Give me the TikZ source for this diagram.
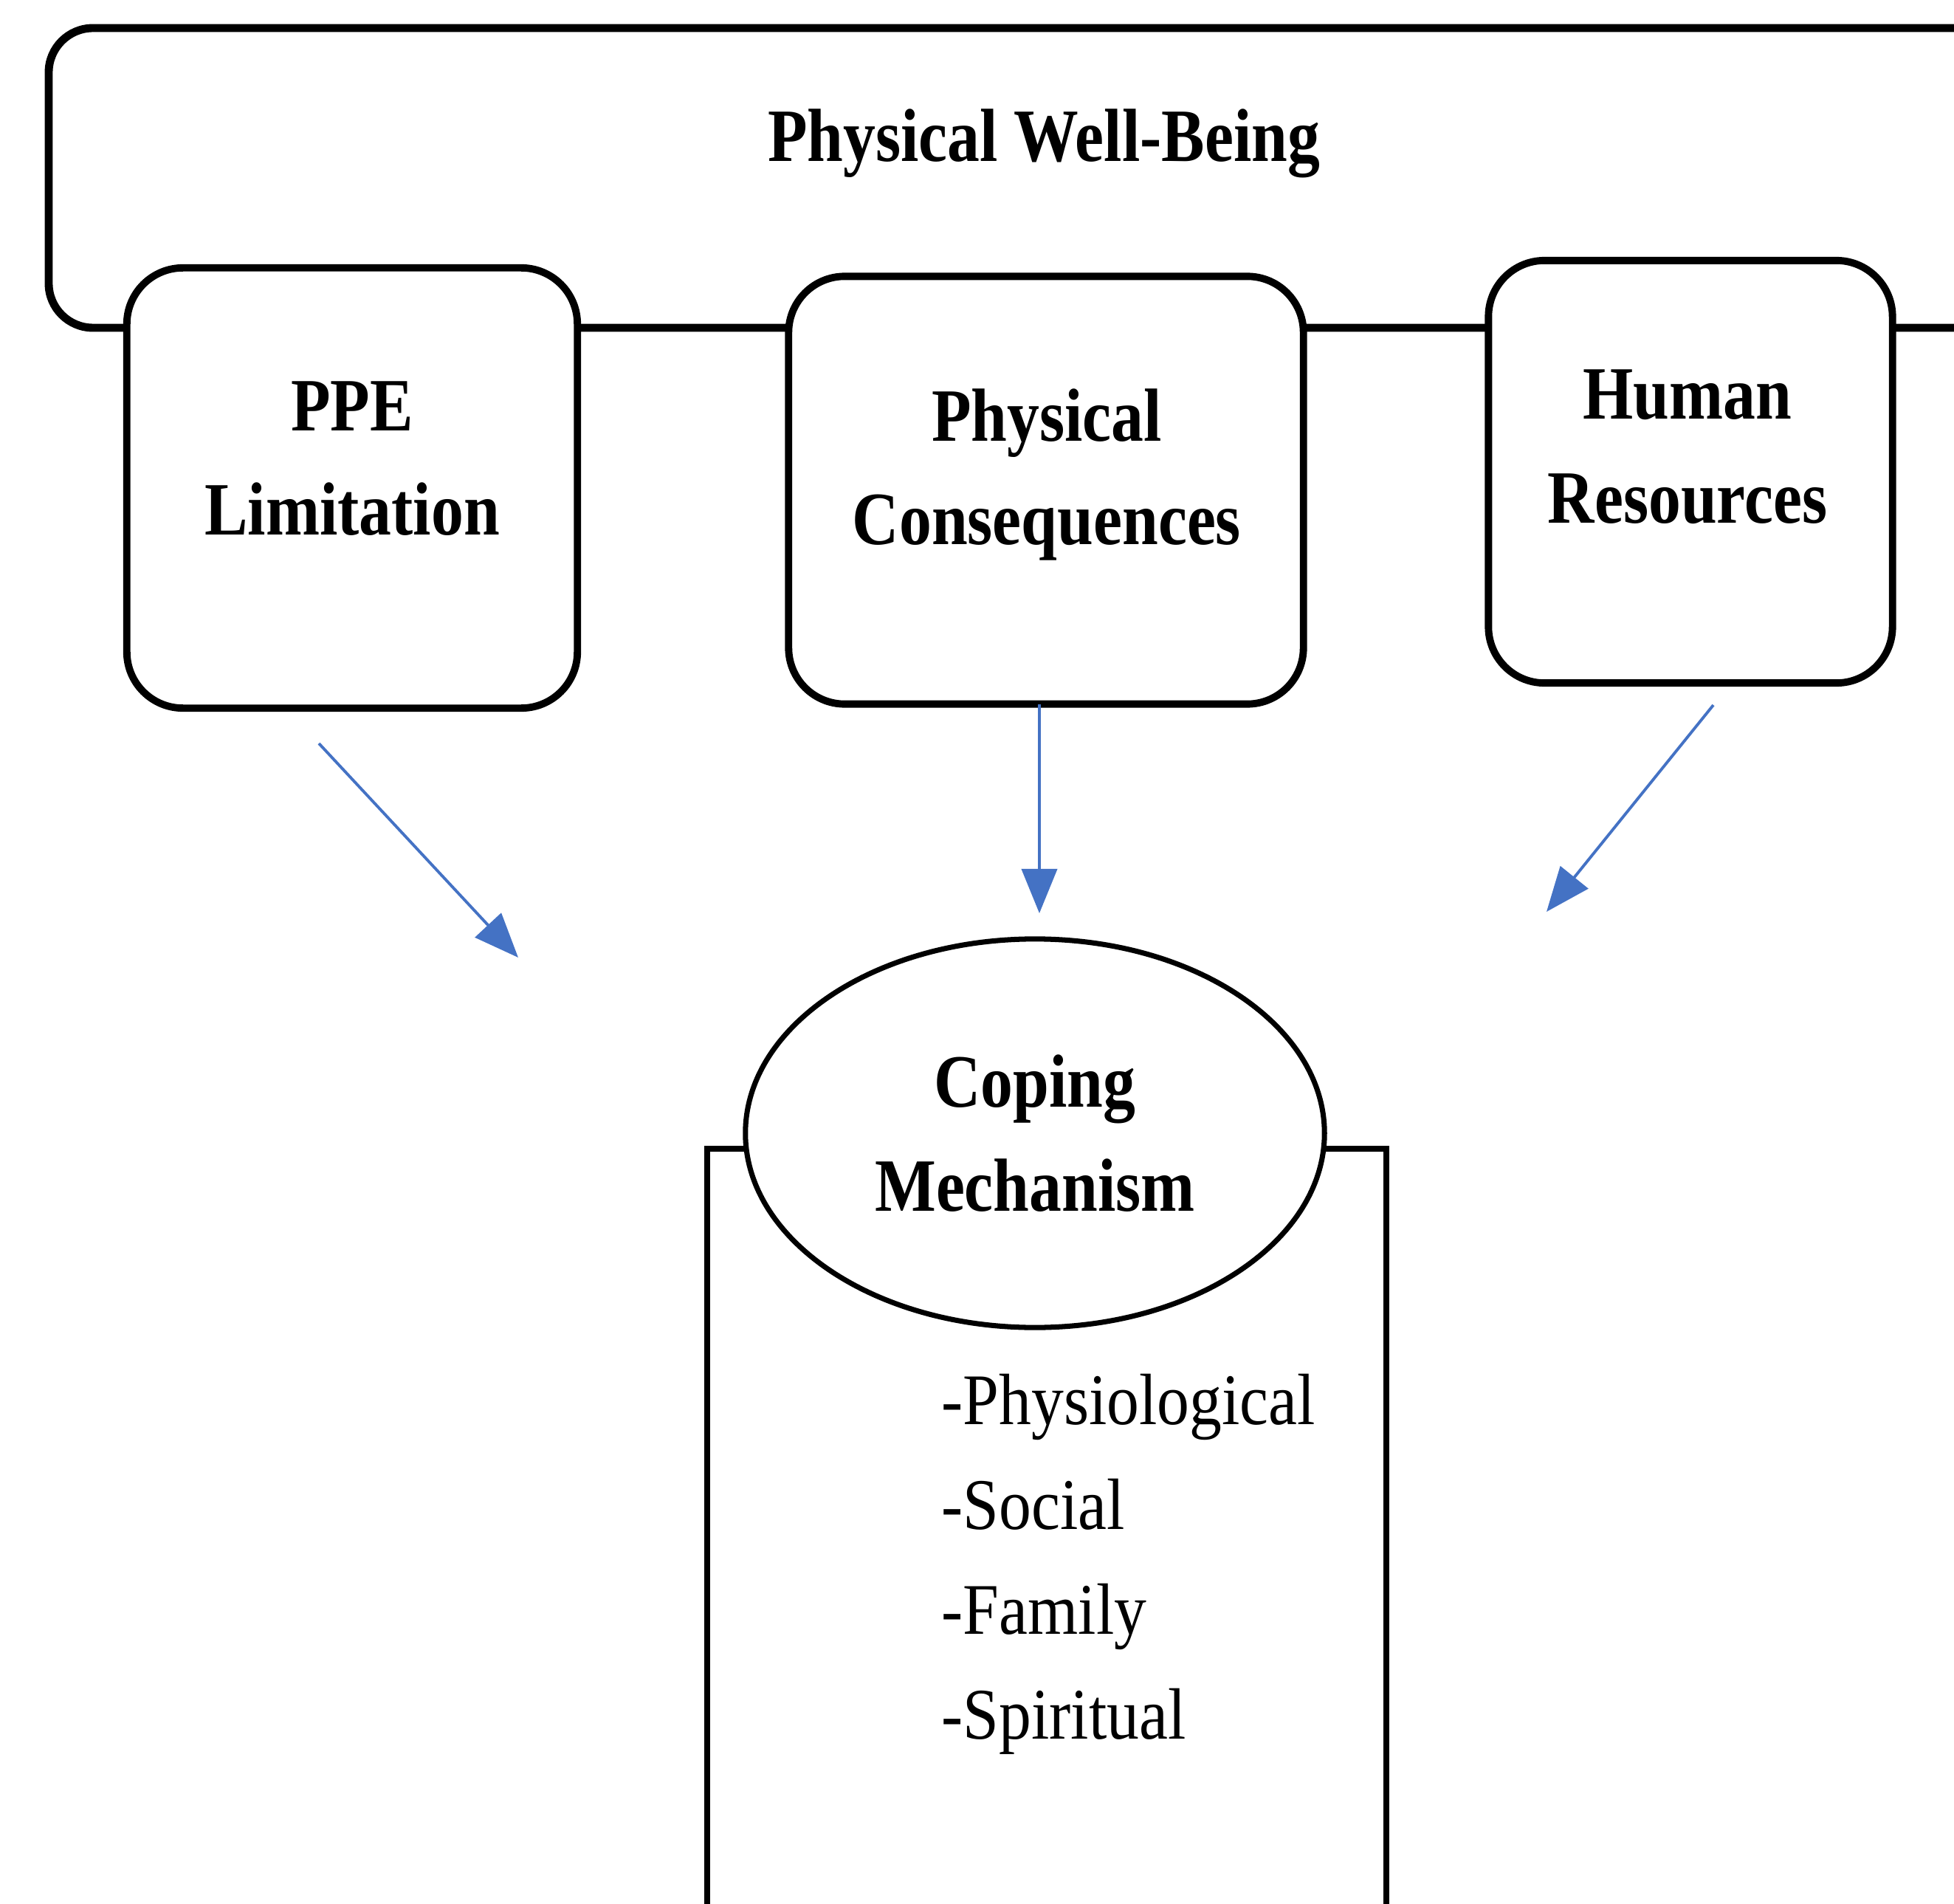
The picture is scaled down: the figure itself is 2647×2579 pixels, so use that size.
\documentclass[tikz,border=0pt]{standalone}
\usepackage{fontspec}
\usetikzlibrary{shapes.geometric,arrows.meta,positioning}
\newfontfamily\boxfont[FakeStretch=0.86]{Liberation Serif}
\newfontfamily\listfont[FakeStretch=0.89]{Liberation Serif}
\definecolor{flowblue}{HTML}{4472C4}

\tikzset{
  frame/.style={line width=3.1pt, rounded corners=0.6cm},
  factor/.style={draw, rectangle, line width=2.8pt, rounded corners=0.76cm, fill=white},
  head/.style={font=\boxfont\bfseries\fontsize{29}{40}\selectfont, align=center, inner sep=0pt},
  ways/.style={font=\listfont\fontsize{28}{40.4}\selectfont, align=left, inner sep=0pt},
  flow/.style={flowblue, line width=1.1pt, -{Triangle[length=6mm,width=4.8mm]}},
}

\begin{document}
\begin{tikzpicture}[x=0.01cm,y=-0.01cm]
\clip (0,0) rectangle (2647,2579);

% physical well-being frame
\draw[frame] (66,38) rectangle (2900,444);
\node[head, anchor=base] (wb) at (1414,219) {Physical Well-Being};

% factors
\node[factor, minimum width=6.1cm, minimum height=5.96cm] (ppe) at (477,661) {};
\node[factor, minimum width=6.97cm, minimum height=5.79cm] (cons) at (1417,664) {};
\node[factor, minimum width=5.47cm, minimum height=5.72cm] (hr) at (2290,639) {};
\node[head] (ppe-t) at (477,621) {PPE\\Limitation};
\node[head] (cons-t) at (1418,643) {Physical\\Consequences};
\node[head] (hr-t) at (2286,605) {Human\\Resources};

% coping mechanism
\draw[line width=2.3pt] (958,2700) -- (958,1556) -- (1878,1556) -- (1878,2700);
\node[head, draw, ellipse, line width=2pt, fill=white, minimum width=7.84cm, minimum height=5.26cm] (cope) at (1402,1535) {Coping\\Mechanism};
\node[ways, anchor=north west] (ways) at (1275,1860) {-Physiological\\-Social\\-Family\\-Spiritual};

% arrows
\coordinate (ppe-a) at (432,1007);
\coordinate (ppe-b) at (702,1297);
\coordinate (cons-a) at (1408,954);
\coordinate (cons-b) at (1408,1237);
\coordinate (hr-a) at (2321,955);
\coordinate (hr-b) at (2095,1235);
\draw[flow] (ppe-a) -- (ppe-b);
\draw[flow] (cons-a) -- (cons-b);
\draw[flow] (hr-a) -- (hr-b);

\end{tikzpicture}
\end{document}
